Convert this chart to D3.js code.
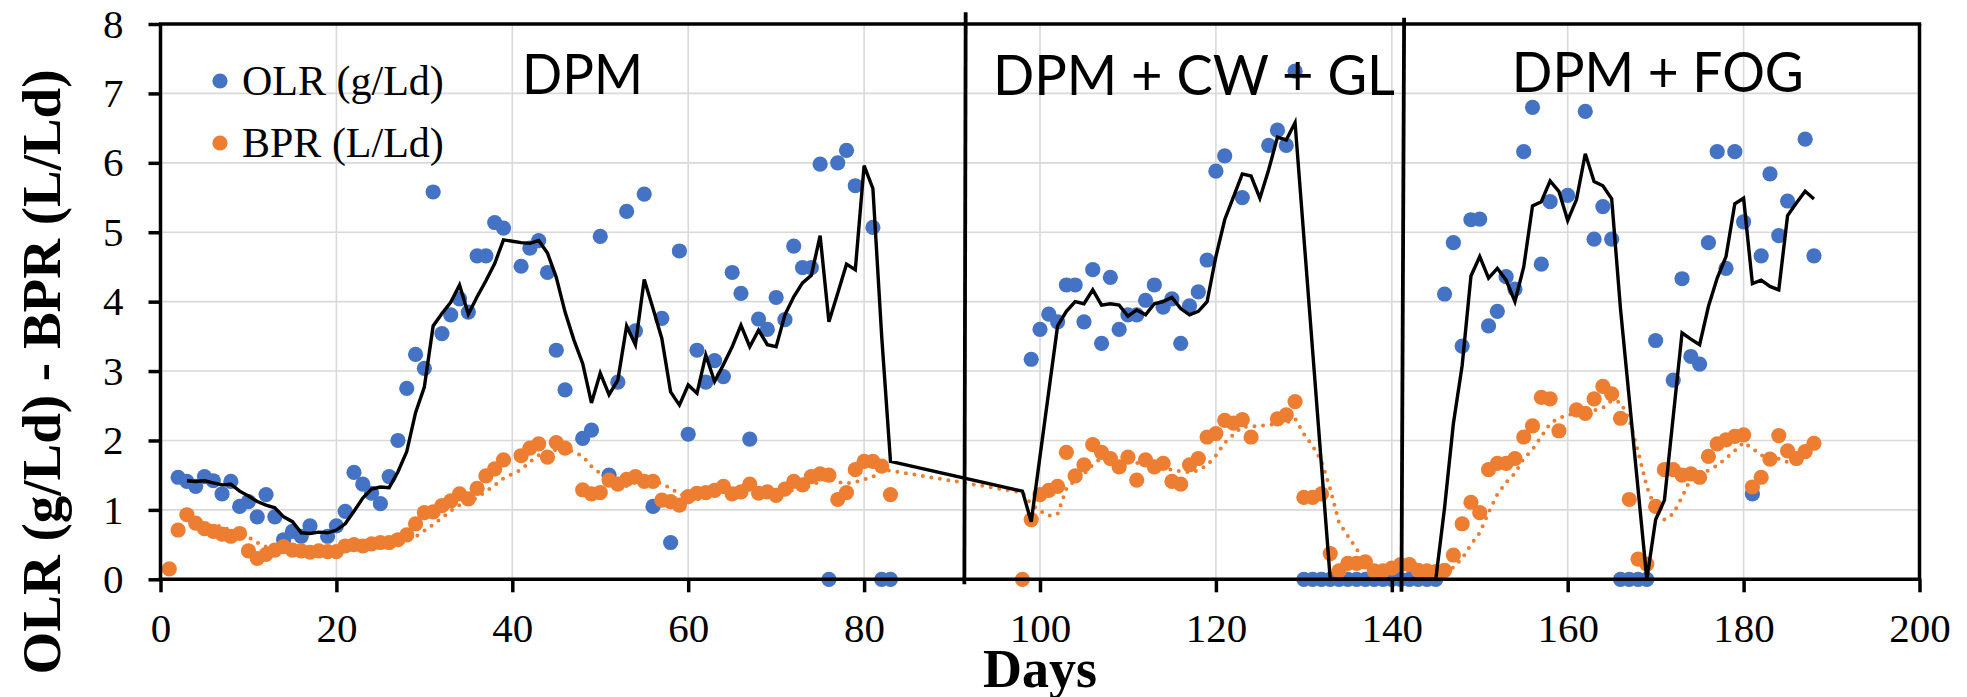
<!DOCTYPE html>
<html><head><meta charset="utf-8">
<script src="https://cdn.jsdelivr.net/npm/d3@7"></script>
<style>
html,body{margin:0;padding:0;background:#fff;}
svg{display:block;}
</style></head><body>
<svg id="chart" width="1967" height="697"></svg>
<script>
// ---------- data (day, value) ----------
const olrPoints = [
[2,1.47],[3,1.41],[4,1.34],[5,1.48],[6,1.42],[7,1.23],[8,1.41],[9,1.05],[10,1.12],[11,0.90],[12,1.22],[13,0.90],[14,0.57],[15,0.69],[16,0.62],[17,0.77],
[19,0.62],[20,0.77],[21,0.98],[22,1.54],[23,1.37],[24,1.24],[25,1.09],[26,1.48],[27,2.00],[28,2.75],[29,3.24],[30,3.04],[31,5.58],[32,3.54],[33,3.81],[34,4.04],[35,3.85],[36,4.66],[37,4.66],[38,5.14],[39,5.06],
[41,4.51],[42,4.77],[43,4.88],[44,4.42],[45,3.30],[46,2.73],
[48,2.03],[49,2.15],[50,4.94],[51,1.50],[52,2.84],[53,5.30],[54,3.58],[55,5.55],[56,1.05],[57,3.76],[58,0.53],[59,4.73],[60,2.09],[61,3.30],[62,2.84],[63,3.15],[64,2.92],[65,4.42],[66,4.12],[67,2.02],[68,3.75],[69,3.60],[70,4.06],[71,3.74],[72,4.80],[73,4.49],[74,4.49],[75,5.98],[76,0],[77,6.00],[78,6.18],[79,5.67],
[81,5.07],[82,0],[83,0],
[99,3.17],[100,3.60],[101,3.82],[102,3.71],[103,4.24],[104,4.24],[105,3.71],[106,4.46],[107,3.40],[108,4.35],[109,3.60],[110,3.81],[111,3.81],[112,4.02],[113,4.24],[114,3.92],[115,4.04],[116,3.40],[117,3.94],[118,4.14],[119,4.60],[120,5.88],[121,6.10],[123,5.50],[126,6.25],[127,6.47],[128,6.25],[129,7.32],
[130,0],[131,0],[132,0],[133,0],[134,0],[135,0],[136,0],[137,0],[138,0],[139,0],[140,0],[141,0],[142,0],[143,0],[144,0],[145,0],
[146,4.11],[147,4.85],[148,3.36],[149,5.18],[150,5.19],[151,3.65],[152,3.86],[153,4.36],[154,4.18],[155,6.16],[156,6.80],[157,4.54],[158,5.44],[160,5.53],[162,6.74],[163,4.90],[164,5.37],[165,4.90],
[166,0],[167,0],[168,0],[169,0],[170,3.44],[172,2.87],[173,4.33],[174,3.21],[175,3.10],[176,4.85],[177,6.16],[178,4.48],[179,6.16],[180,5.15],[181,1.23],[182,4.66],[183,5.84],[184,4.95],[185,5.45],[187,6.34],[188,4.66]
];

const bprPoints = [
[1,0.15],[2,0.71],[3,0.93],[4,0.81],[5,0.73],[6,0.69],[7,0.65],[8,0.62],[9,0.66],[10,0.41],[11,0.30],[12,0.36],[13,0.42],[14,0.47],[15,0.42],[16,0.41],[17,0.39],[18,0.41],[19,0.40],[20,0.40],
[21,0.48],[22,0.50],[23,0.48],[24,0.51],[25,0.53],[26,0.53],[27,0.57],[28,0.64],[29,0.80],[30,0.96],[31,0.97],[32,1.06],[33,1.13],[34,1.23],[35,1.16],[36,1.31],[37,1.49],[38,1.59],[39,1.72],
[41,1.78],[42,1.89],[43,1.95],[44,1.76],[45,1.97],[46,1.89],
[48,1.29],[49,1.23],[50,1.25],[51,1.43],[52,1.37],[53,1.44],[54,1.48],[55,1.41],[56,1.41],[57,1.14],[58,1.12],[59,1.07],[60,1.19],[61,1.24],[62,1.25],[63,1.28],[64,1.34],[65,1.23],[66,1.26],[67,1.37],[68,1.24],[69,1.26],[70,1.21],[71,1.30],[72,1.41],[73,1.36],[74,1.48],[75,1.52],[76,1.50],[77,1.15],[78,1.25],[79,1.58],[80,1.70],[81,1.70],[82,1.63],[83,1.22],
[98,0.00],[99,0.86],[100,1.22],[101,1.28],[102,1.34],[103,1.83],[104,1.49],[105,1.65],[106,1.94],[107,1.83],[108,1.74],[109,1.62],[110,1.76],[111,1.43],[112,1.72],[113,1.62],[114,1.67],[115,1.41],[116,1.37],[117,1.65],[118,1.74],[119,2.05],[120,2.10],[121,2.29],[122,2.25],[123,2.30],[124,2.05],[127,2.31],[128,2.37],[129,2.56],
[130,1.18],[131,1.18],[132,1.23],[133,0.37],[134,0.12],[135,0.23],[136,0.23],[137,0.25],[138,0.12],[139,0.12],[140,0.16],[141,0.21],[142,0.21],[143,0.13],[144,0.12],[145,0.11],
[146,0.13],[147,0.35],[148,0.80],[149,1.11],[150,0.96],[151,1.58],[152,1.67],[153,1.67],[154,1.74],[155,2.05],[156,2.21],[157,2.62],[158,2.60],[159,2.14],[161,2.44],[162,2.39],[163,2.60],[164,2.78],[165,2.67],
[166,2.32],[167,1.15],[168,0.29],[169,0.22],[170,1.05],[171,1.58],[172,1.58],[173,1.50],[174,1.52],[175,1.47],[176,1.77],[177,1.95],[178,2.01],[179,2.06],[180,2.08],[181,1.33],[182,1.47],[183,1.73],[184,2.07],[185,1.85],[186,1.74],[187,1.84],[188,1.96]
];

// black solid trend line
const olrTrend = [
[3,1.42],[4,1.41],[5,1.42],[6,1.39],[7,1.36],[8,1.37],[9,1.27],[10,1.20],[11,1.12],[12,1.07],[13,1.03],[14,0.90],[15,0.83],[16,0.67],[17,0.66],[18,0.68],[19,0.67],[20,0.71],
[21,0.80],[22,0.98],[23,1.17],[24,1.30],[25,1.33],[26,1.32],[27,1.55],[28,1.84],[29,2.40],[30,2.77],[31,3.65],[32,3.83],[33,3.99],[34,4.24],[35,3.82],[36,4.07],[37,4.30],[38,4.55],[39,4.89],[40,4.87],
[41,4.85],[42,4.84],[43,4.88],[44,4.70],[45,4.35],[46,3.85],[47,3.45],[48,3.11],[49,2.54],[50,2.97],[51,2.66],[52,2.87],[53,3.65],[54,3.38],[55,4.32],[56,3.90],[57,3.47],[58,2.70],[59,2.51],[60,2.80],
[61,2.68],[62,3.23],[63,2.85],[64,3.09],[65,3.35],[66,3.66],[67,3.35],[68,3.59],[69,3.38],[70,3.35],[71,3.81],[72,4.07],[73,4.27],[74,4.38],[75,4.95],[76,3.71],[77,4.12],[78,4.54],[79,4.46],[80,5.96],
[81,5.63],[82,3.50],[83,1.70],[98,1.27],[99,0.83],[102,3.65],[103,3.86],[104,4.00],[105,3.97],[106,4.17],[107,3.95],[108,3.97],[109,3.95],[110,3.79],[111,3.88],[112,3.81],[113,3.97],[114,4.00],[115,4.06],
[116,3.90],[117,3.81],[118,3.86],[119,4.00],[120,4.65],[121,5.18],[122,5.51],[123,5.84],[124,5.81],[125,5.49],[126,5.90],[127,6.37],[128,6.33],[129,6.58],[133,0],[145,0],
[146,1.03],[147,2.24],[148,3.08],[149,4.37],[150,4.65],[151,4.34],[152,4.48],[153,4.31],[154,4.00],[155,4.50],[156,5.38],[157,5.44],[158,5.74],[159,5.59],[160,5.17],[161,5.47],[162,6.13],[163,5.73],[164,5.67],[165,5.48],
[166,3.90],[169,0],[170,0.86],[171,1.14],[173,3.55],[174,3.46],[175,3.38],[176,3.93],[177,4.34],[178,4.65],[179,5.41],[180,5.49],[181,4.26],[182,4.31],[183,4.22],[184,4.17],[185,5.24],[186,5.42],[187,5.59],[188,5.48]
];

// orange dotted trend line
const bprTrend = [
[5,0.666],[6,0.774],[7,0.762],[8,0.70],[9,0.67],[10,0.606],[11,0.528],[12,0.47],[13,0.43],[14,0.392],[15,0.394],[16,0.416],[17,0.422],[18,0.42],[19,0.406],[20,0.402],
[21,0.416],[22,0.438],[23,0.452],[24,0.474],[25,0.50],[26,0.51],[27,0.524],[28,0.556],[29,0.614],[30,0.70],[31,0.788],[32,0.886],[33,0.984],[34,1.07],[35,1.11],[36,1.178],[37,1.264],[38,1.356],[39,1.454],
[41,1.578],[42,1.694],[43,1.786],[44,1.82],[45,1.87],[46,1.892],[48,1.772],[49,1.628],[50,1.526],[51,1.418],[52,1.314],[53,1.344],[54,1.394],[55,1.426],[56,1.422],[57,1.376],[58,1.312],[59,1.23],[60,1.186],
[61,1.152],[62,1.174],[63,1.206],[64,1.26],[65,1.268],[66,1.272],[67,1.296],[68,1.288],[69,1.272],[70,1.268],[71,1.276],[72,1.284],[73,1.308],[74,1.352],[75,1.414],[76,1.454],[77,1.402],[78,1.38],[79,1.40],[80,1.436],
[81,1.476],[82,1.572],[83,1.566],[98,1.25],[99,1.082],[100,0.986],[101,0.916],[102,0.94],[103,1.306],[104,1.432],[105,1.518],[106,1.65],[107,1.748],[108,1.73],[109,1.756],[110,1.778],
[111,1.676],[112,1.654],[113,1.63],[114,1.64],[115,1.57],[116,1.558],[117,1.544],[118,1.568],[119,1.644],[120,1.782],[121,1.966],[122,2.086],[123,2.198],[124,2.198],[127,2.24],[128,2.256],[129,2.318],[130,2.094],
[131,1.92],[132,1.704],[133,1.304],[134,0.816],[135,0.626],[136,0.436],[137,0.24],[138,0.19],[139,0.19],[140,0.176],[141,0.172],[142,0.164],[143,0.166],[144,0.166],[145,0.156],[146,0.14],[147,0.168],[148,0.302],[149,0.50],[150,0.67],
[151,0.96],[152,1.224],[153,1.398],[154,1.524],[155,1.742],[156,1.868],[157,2.058],[158,2.244],[159,2.324],[161,2.402],[162,2.438],[163,2.434],[164,2.47],[165,2.576],[166,2.552],[167,2.304],[168,1.842],[169,1.33],[170,1.006],
[171,0.858],[172,0.944],[173,1.186],[174,1.446],[175,1.53],[176,1.568],[177,1.642],[178,1.744],[179,1.852],[180,1.974],[181,1.886],[182,1.79],[183,1.734],[184,1.736],[185,1.69],[186,1.772],[187,1.846],[188,1.892]
];

const xTicks = [0,20,40,60,80,100,120,140,160,180,200];
const yTicks = [0,1,2,3,4,5,6,7,8];
const seriesNames = ["OLR (g/Ld)", "BPR (L/Ld)"];
const phaseNames = ["DPM", "DPM + CW + GL", "DPM + FOG"];
const phaseStartDay = [41.1, 94.65, 153.65];   // left edge of each label, in days
const phaseLabelLevel = [6.99, 6.98, 7.02];     // label baseline, in y units
const dividerTop = [[91.55, 8.17], [141.4, 8.09]];     // [day, value]
const dividerBottom = [[91.4, -0.07], [141.1, -0.18]];
const xTitle = "Days";
const yTitle = "OLR (g/Ld) - BPR (L/Ld)";

// ---------- layout / style ----------
const BLUE = "#4472C4", ORANGE = "#ED7D31";
const SERIF = "'Liberation Serif','Times New Roman',serif";
const SANS = "Lato,'Open Sans',sans-serif";
const x = d3.scaleLinear().domain([0, 200]).range([160.5, 1919.5]);
const y = d3.scaleLinear().domain([0, 8]).range([579.3, 24]);
const svg = d3.select("#chart");

// gridlines
const grid = svg.append("g");
grid.selectAll("line.h").data(yTicks.filter(v => v > 0 && v < 8)).join("line")
  .attr("x1", x(0)).attr("x2", x(200)).attr("y1", d => y(d)).attr("y2", d => y(d))
  .attr("stroke", "#d9d9d9").attr("stroke-width", 1.6);
grid.selectAll("line.v").data(xTicks.filter(v => v > 0 && v < 200)).join("line")
  .attr("y1", y(0)).attr("y2", y(8)).attr("x1", d => x(d)).attr("x2", d => x(d))
  .attr("stroke", "#d9d9d9").attr("stroke-width", 1.6);

// points
const R = 7.6;
svg.append("g").selectAll("circle").data(olrPoints).join("circle")
  .attr("cx", d => x(d[0])).attr("cy", d => y(d[1])).attr("r", R).attr("fill", BLUE);
svg.append("g").selectAll("circle").data(bprPoints).join("circle")
  .attr("cx", d => x(d[0])).attr("cy", d => y(d[1])).attr("r", R).attr("fill", ORANGE);

// trend lines
const line = d3.line().x(d => x(d[0])).y(d => y(d[1]));
svg.append("path").datum(bprTrend).attr("d", line).attr("fill", "none")
  .attr("stroke", ORANGE).attr("stroke-width", 4).attr("stroke-linecap", "round")
  .attr("stroke-dasharray", "0 8.6");
svg.append("path").datum(olrTrend).attr("d", line).attr("fill", "none")
  .attr("stroke", "#000").attr("stroke-width", 3.4).attr("stroke-linejoin", "miter");

// axes
const xAxis = svg.append("g").attr("transform", `translate(0,${y(0)})`)
  .call(d3.axisBottom(x).tickValues(xTicks).tickSize(13).tickPadding(21).tickFormat(d3.format("d")))
  .attr("font-family", SERIF).attr("font-size", 41);
xAxis.select(".domain").remove();
xAxis.selectAll(".tick line").attr("stroke", "#000").attr("stroke-width", 3.5);
xAxis.selectAll(".tick text").attr("font-family", SERIF).attr("font-size", 41).attr("fill", "#000");

const yAxis = svg.append("g").attr("transform", `translate(${x(0)},0)`)
  .call(d3.axisLeft(y).tickValues(yTicks).tickSize(12).tickPadding(25).tickFormat(d3.format("d")))
  .attr("font-family", SERIF).attr("font-size", 41);
yAxis.select(".domain").remove();
yAxis.selectAll(".tick line").attr("stroke", "#000").attr("stroke-width", 3.5);
yAxis.selectAll(".tick text").attr("font-family", SERIF).attr("font-size", 41).attr("fill", "#000");

// frame
const frame = svg.append("g").attr("stroke", "#000").attr("stroke-width", 3.5).attr("fill", "none");
frame.append("line").attr("x1", x(0)).attr("x2", x(0)).attr("y1", y(8)).attr("y2", y(0) + 1.7);
frame.append("line").attr("x1", x(0) - 1.7).attr("x2", x(200) + 1.7).attr("y1", y(0)).attr("y2", y(0));
frame.append("line").attr("x1", x(0) - 1.7).attr("x2", x(200) + 1.7).attr("y1", y(8)).attr("y2", y(8));
frame.append("line").attr("x1", x(200)).attr("x2", x(200)).attr("y1", y(8)).attr("y2", y(0));

// phase dividers
svg.append("g").selectAll("line").data(d3.range(dividerTop.length)).join("line")
  .attr("x1", i => x(dividerTop[i][0])).attr("y1", i => y(dividerTop[i][1]))
  .attr("x2", i => x(dividerBottom[i][0])).attr("y2", i => y(dividerBottom[i][1]))
  .attr("stroke", "#000").attr("stroke-width", 3.8);

// phase labels
const phaseWidths = [121, 402, 292];
svg.append("g").selectAll("text").data(phaseNames).join("text")
  .attr("x", (d, i) => x(phaseStartDay[i])).attr("y", (d, i) => y(phaseLabelLevel[i]))
  .attr("font-family", SANS).attr("font-size", 57).attr("fill", "#000")
  .attr("textLength", (d, i) => phaseWidths[i]).attr("lengthAdjust", "spacingAndGlyphs")
  .text(d => d);

// legend
const legend = svg.append("g");
const legendColors = [BLUE, ORANGE];
seriesNames.forEach((name, i) => {
  const cy = 81 + i * 62;
  legend.append("circle").attr("cx", 220).attr("cy", cy).attr("r", 7.6).attr("fill", legendColors[i]);
  legend.append("text").attr("x", 242).attr("y", cy + 14).attr("font-family", SERIF)
    .attr("font-size", 42).attr("fill", "#000").text(name);
});

// axis titles
svg.append("text").attr("x", (x(0) + x(200)) / 2).attr("y", 687).attr("text-anchor", "middle")
  .attr("font-family", SERIF).attr("font-weight", "bold").attr("font-size", 54).attr("fill", "#000").text(xTitle);
svg.append("text").attr("transform", "translate(60,372) rotate(-90)").attr("text-anchor", "middle")
  .attr("font-family", SERIF).attr("font-weight", "bold").attr("font-size", 55).attr("fill", "#000").text(yTitle);
</script>
</body></html>
